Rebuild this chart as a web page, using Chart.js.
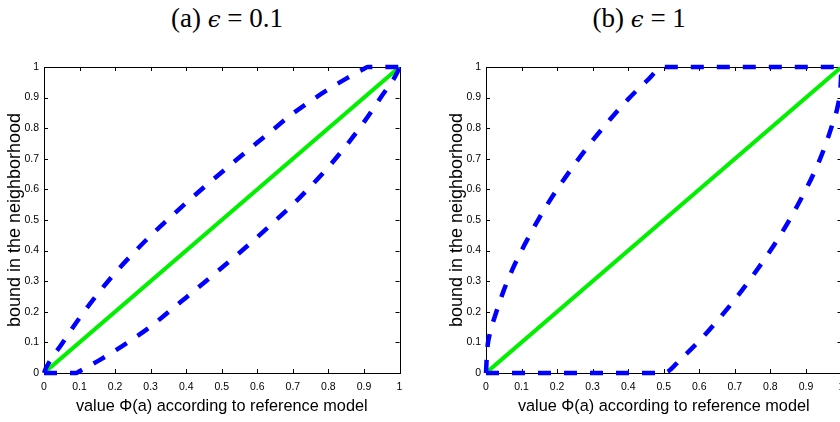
<!DOCTYPE html>
<html>
<head>
<meta charset="utf-8">
<script src="https://cdn.jsdelivr.net/npm/chart.js@4.4.0/dist/chart.umd.min.js"></script>
<style>
  html, body { margin: 0; padding: 0; background: #fff; width: 840px; height: 422px; overflow: hidden; }
  .wrap { position: relative; width: 840px; height: 422px; overflow: hidden; }
  canvas { position: absolute; }
  .cap { position: absolute; top: 3px; font-family: "Liberation Serif", "DejaVu Serif", serif; font-size: 27px; color: #000; white-space: nowrap; }
  .cap i { font-family: "DejaVu Serif", serif; font-size: 23px; }
</style>
</head>
<body>
<div class="wrap">
  <div class="cap" id="capA">(a) <i>ϵ</i> = 0.1</div>
  <div class="cap" id="capB">(b) <i>ϵ</i> = 1</div>
  <canvas id="chartA" width="420" height="372" style="left:0px; top:50px;"></canvas>
  <canvas id="chartB" width="420" height="372" style="left:442px; top:50px;"></canvas>
</div>
<script>
// ticks on both axes
const tickValues = [0, 0.1, 0.2, 0.3, 0.4, 0.5, 0.6, 0.7, 0.8, 0.9, 1];

// reference: bound equals value
const refX = [0, 1];
const refY = [0, 1];

// (a) epsilon = 0.1
const upperAX = [0, 0.005, 0.05, 0.1, 0.15, 0.2, 0.25, 0.3, 0.35, 0.4, 0.45, 0.5, 0.55, 0.6, 0.65, 0.7, 0.75, 0.8, 0.85, 0.9, 0.91, 1];
const upperAY = [0, 0.015, 0.095, 0.18, 0.257, 0.327, 0.39, 0.449, 0.503, 0.556, 0.607, 0.656, 0.705, 0.753, 0.801, 0.848, 0.889, 0.927, 0.962, 0.994, 1, 1];
const lowerAX = [0, 0.09, 0.1, 0.15, 0.2, 0.25, 0.3, 0.35, 0.4, 0.45, 0.5, 0.55, 0.6, 0.65, 0.7, 0.75, 0.8, 0.85, 0.9, 0.95, 0.995, 1];
const lowerAY = [0, 0, 0.006, 0.038, 0.073, 0.111, 0.152, 0.199, 0.247, 0.295, 0.344, 0.393, 0.444, 0.497, 0.551, 0.61, 0.673, 0.743, 0.82, 0.905, 0.985, 1];

// (b) epsilon = 1
const upperBX = [0, 0.003, 0.01, 0.025, 0.05, 0.075, 0.1, 0.125, 0.15, 0.175, 0.2, 0.25, 0.3, 0.35, 0.4, 0.45, 0.5, 1];
const upperBY = [0, 0.07, 0.125, 0.185, 0.27, 0.34, 0.4, 0.455, 0.507, 0.555, 0.6, 0.683, 0.76, 0.83, 0.895, 0.952, 1, 1];
const lowerBX = [0, 0.5, 0.55, 0.6, 0.65, 0.7, 0.75, 0.8, 0.825, 0.85, 0.875, 0.9, 0.925, 0.95, 0.975, 0.99, 0.997, 1];
const lowerBY = [0, 0, 0.048, 0.105, 0.17, 0.24, 0.317, 0.4, 0.445, 0.493, 0.545, 0.6, 0.66, 0.73, 0.815, 0.875, 0.93, 1];

const xTitle = 'value Φ(a) according to reference model';
const yTitle = 'bound in the neighborhood';

function pts(xs, ys) {
  return xs.map((x, i) => ({ x: x, y: ys[i] }));
}

// matlab style box with inward ticks
const boxPlugin = {
  id: 'box',
  beforeDatasetsDraw(chart) {
    const { ctx, chartArea: a, scales } = chart;
    const len = 4;
    ctx.save();
    ctx.strokeStyle = '#000';
    ctx.lineWidth = 1;
    ctx.beginPath();
    tickValues.forEach(v => {
      const px = Math.round(scales.x.getPixelForValue(v)) + 0.5;
      ctx.moveTo(px, a.bottom); ctx.lineTo(px, a.bottom - len);
      ctx.moveTo(px, a.top); ctx.lineTo(px, a.top + len);
      const py = Math.round(scales.y.getPixelForValue(v)) + 0.5;
      ctx.moveTo(a.left, py); ctx.lineTo(a.left + len, py);
      ctx.moveTo(a.right, py); ctx.lineTo(a.right - len, py);
    });
    ctx.stroke();
    ctx.strokeRect(Math.round(a.left) + 0.5, Math.round(a.top) + 0.5,
      Math.round(a.right - a.left), Math.round(a.bottom - a.top));
    ctx.restore();
  }
};

function makeChart(id, upX, upY, loX, loY) {
  const dashed = {
    borderColor: '#0000ff',
    borderWidth: 4.5,
    borderDash: [13, 13],
    borderCapStyle: 'butt',
    pointRadius: 0,
    cubicInterpolationMode: 'monotone',
    clip: false,
    fill: false
  };
  const tickFont = { family: 'Liberation Sans', size: 10.5 };
  return new Chart(document.getElementById(id), {
    type: 'line',
    data: {
      datasets: [
        Object.assign({ label: 'upper', data: pts(upX, upY) }, dashed),
        Object.assign({ label: 'lower', data: pts(loX, loY) }, dashed),
        { label: 'reference', data: pts(refX, refY), borderColor: '#00f000', borderWidth: 4, pointRadius: 0, fill: false }
      ]
    },
    options: {
      responsive: false,
      animation: false,
      layout: { padding: { top: 17, right: 20.5, left: 0, bottom: 0 } },
      plugins: { legend: { display: false }, tooltip: { enabled: false } },
      scales: {
        x: {
          type: 'linear', min: 0, max: 1,
          afterBuildTicks: s => { s.ticks = tickValues.map(v => ({ value: v })); },
          afterFit: s => { s.height = 49; },
          ticks: { font: tickFont, color: '#000', padding: 8, maxRotation: 0, autoSkip: false, callback: v => String(+v.toFixed(1)) },
          grid: { display: false, drawTicks: false },
          border: { display: false },
          title: { display: true, text: xTitle, color: '#000', font: { family: 'Liberation Sans', size: 16.3 }, padding: { top: 0, bottom: 6 } }
        },
        y: {
          type: 'linear', min: 0, max: 1,
          afterBuildTicks: s => { s.ticks = tickValues.map(v => ({ value: v })); },
          afterFit: s => { s.width = 44; },
          ticks: { font: tickFont, color: '#000', padding: 5, autoSkip: false, callback: v => String(+v.toFixed(1)) },
          grid: { display: false, drawTicks: false },
          border: { display: false },
          title: { display: true, text: yTitle, color: '#000', font: { family: 'Liberation Sans', size: 18 }, padding: { top: 4, bottom: 0 } }
        }
      }
    },
    plugins: [boxPlugin]
  });
}

makeChart('chartA', upperAX, upperAY, lowerAX, lowerAY);
makeChart('chartB', upperBX, upperBY, lowerBX, lowerBY);

// centre the captions
function place(id, cx) {
  const el = document.getElementById(id);
  el.style.left = (cx - el.offsetWidth / 2) + 'px';
}
place('capA', 227);
place('capB', 639);
</script>
</body>
</html>
